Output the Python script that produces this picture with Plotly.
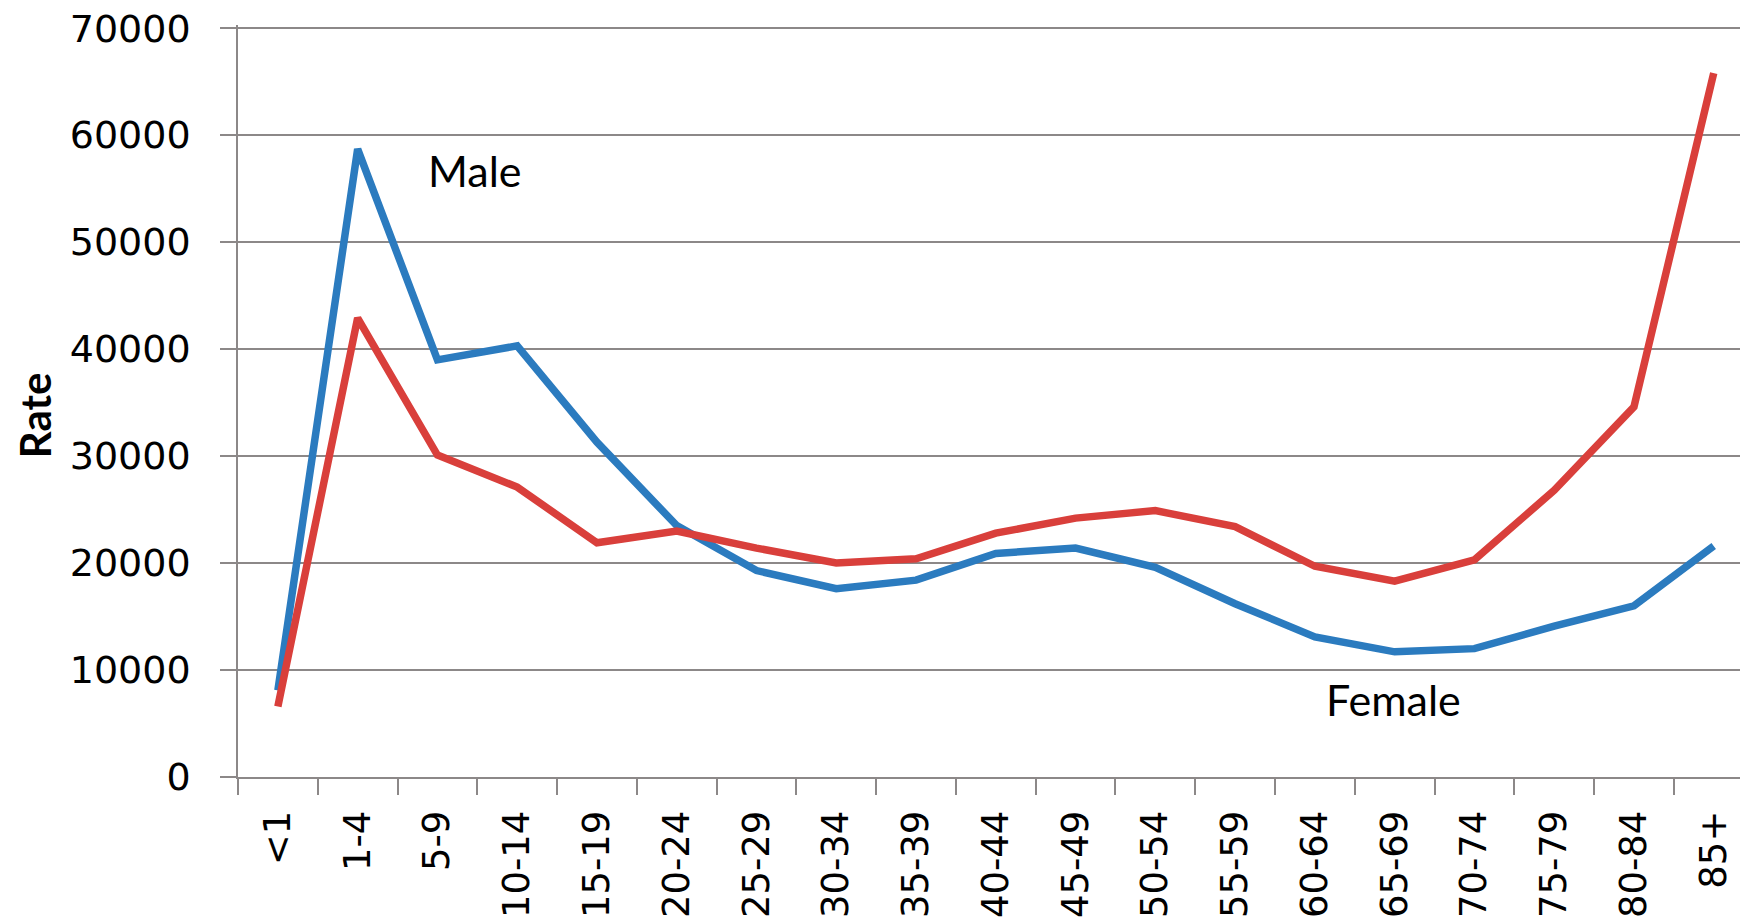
import plotly.graph_objects as go

age_groups = ["<1", "1-4", "5-9", "10-14", "15-19", "20-24", "25-29", "30-34", "35-39",
              "40-44", "45-49", "50-54", "55-59", "60-64", "65-69", "70-74", "75-79",
              "80-84", "85+"]
blue_series = [8100, 58700, 39000, 40300, 31300, 23500, 19300, 17600, 18400, 20900,
               21400, 19600, 16200, 13100, 11700, 12000, 14100, 16000, 21600]
red_series = [6600, 42900, 30100, 27100, 21900, 23000, 21400, 20000, 20400, 22800,
              24200, 24900, 23400, 19700, 18300, 20300, 26800, 34600, 65800]
y_ticks = [0, 10000, 20000, 30000, 40000, 50000, 60000, 70000]

BLUE = "#2b7bbf"
RED = "#d93f3b"
GRID = "#8c8888"

fig = go.Figure()
fig.add_trace(go.Scatter(x=age_groups, y=blue_series, mode="lines", name="Male",
                         line=dict(color=BLUE, width=7.5)))
fig.add_trace(go.Scatter(x=age_groups, y=red_series, mode="lines", name="Female",
                         line=dict(color=RED, width=7.5)))

fig.update_layout(
    width=1748, height=922,
    margin=dict(l=229.5, r=0, t=16.8, b=153.4),
    paper_bgcolor="white", plot_bgcolor="white",
    showlegend=False,
    font=dict(family="DejaVu Sans", color="black"),
)

fig.update_xaxes(
    type="category",
    categoryorder="array", categoryarray=age_groups,
    range=[-0.5, 18.53],
    tickangle=-90, tickfont=dict(family="DejaVu Sans", size=37, color="black"),
    ticks="outside", ticklen=16, tickwidth=1.6, tickcolor=GRID,
    tickson="boundaries",
    showline=True, linecolor=GRID, linewidth=1.6,
    showgrid=False, zeroline=False,
    ticklabelstandoff=17,
)
fig.update_yaxes(
    range=[0, 70300],
    tickmode="array", tickvals=y_ticks, ticktext=[str(v) for v in y_ticks],
    tickfont=dict(family="DejaVu Sans", size=38, color="black"),
    ticks="outside", ticklen=16, tickwidth=1.6, tickcolor=GRID,
    showline=True, linecolor=GRID, linewidth=1.6,
    showgrid=True, gridcolor=GRID, gridwidth=1.6,
    zeroline=False,
    ticklabelstandoff=22,
    ticklabeloverflow="allow",
)

fig.add_annotation(x=2.476, y=56700, xref="x", yref="y", text="Male", showarrow=False,
                   font=dict(family="Lato", size=43, color="black"))
fig.add_annotation(x=13.99, y=7200, xref="x", yref="y", text="Female", showarrow=False,
                   font=dict(family="Lato", size=43, color="black"))
fig.add_annotation(x=-0.134, y=0.4805, xref="paper", yref="paper", text="<b>Rate</b>",
                   textangle=-90, showarrow=False, xanchor="center", yanchor="middle",
                   font=dict(family="Lato", size=42, color="black"))

fig.write_html("out.html")
